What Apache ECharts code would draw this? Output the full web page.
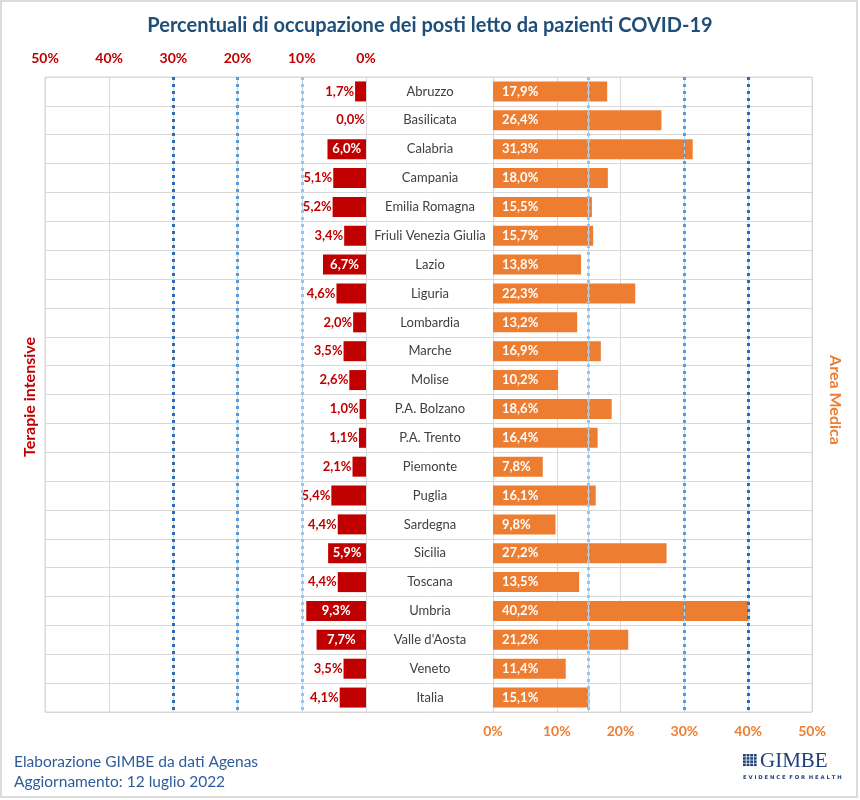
<!DOCTYPE html>
<html><head><meta charset="utf-8">
<script src="https://cdn.jsdelivr.net/npm/echarts@6/dist/echarts.min.js"></script>
<style>html,body{margin:0;padding:0;background:#fff}#c{width:860px;height:800px}</style>
</head><body><div id="c"></div><script>
const categories = ["Abruzzo","Basilicata","Calabria","Campania","Emilia Romagna","Friuli Venezia Giulia","Lazio","Liguria","Lombardia","Marche","Molise","P.A. Bolzano","P.A. Trento","Piemonte","Puglia","Sardegna","Sicilia","Toscana","Umbria","Valle d'Aosta","Veneto","Italia"];
const terapieIntensive = [1.7,0.0,6.0,5.1,5.2,3.4,6.7,4.6,2.0,3.5,2.6,1.0,1.1,2.1,5.4,4.4,5.9,4.4,9.3,7.7,3.5,4.1];
const areaMedica = [17.9,26.4,31.3,18.0,15.5,15.7,13.8,22.3,13.2,16.9,10.2,18.6,16.4,7.8,16.1,9.8,27.2,13.5,40.2,21.2,11.4,15.1];
const axisMax = 50;
const axisStep = 10;
const sogliaTI = [10, 20, 30];
const sogliaAM = [15, 30, 40];

const FONT = 'Lato';
const RED = '#C00000', ORANGE = '#ED7D31', GRID = '#D9D9D9';
const lineColors = ['#9DC3E6', '#5B9BD5', '#2E6DB4'];
const fmt = v => v.toFixed(1).replace('.', ',') + '%';

function marks(values) {
  const out = [];
  values.forEach((v, i) => {
    out.push({xAxis: v, lineStyle: {color: '#BDD7EE', width: 1, type: 'solid'}});
    out.push({xAxis: v, lineStyle: {color: lineColors[i], width: 3, type: [3, 4]}});
  });
  return out;
}

const tiData = terapieIntensive.map(v => ({
  value: v,
  label: v >= 5.5 ? {position: 'inside', color: '#fff'} : {position: 'left', color: RED, distance: 1}
}));

const chart = echarts.init(document.getElementById('c'), null, {renderer: 'canvas'});
const gridTop = 77, gridBottom = 88;
chart.setOption({
  animation: false,
  backgroundColor: '#fff',
  textStyle: {fontFamily: FONT},
  title: {
    text: 'Percentuali di occupazione dei posti letto da pazienti COVID-19',
    left: 'center', top: 11,
    textStyle: {fontFamily: FONT, fontSize: 20, fontWeight: 'bold', color: '#1F4E79'}
  },
  grid: [
    {left: 45, width: 321, top: gridTop, bottom: gridBottom},
    {left: 493, width: 319, top: gridTop, bottom: gridBottom},
    {left: 45, width: 767, top: gridTop, bottom: gridBottom, show: true, borderColor: GRID, borderWidth: 1, z: 0}
  ],
  xAxis: [
    {gridIndex: 0, type: 'value', inverse: true, min: 0, max: axisMax, interval: axisStep, position: 'top',
     axisLine: {show: false}, axisTick: {show: false},
     splitLine: {show: true, lineStyle: {color: GRID, width: 1}},
     axisLabel: {formatter: '{value}%', color: RED, fontWeight: 'bold', fontSize: 14, margin: 12, fontFamily: FONT}},
    {gridIndex: 1, type: 'value', min: 0, max: axisMax, interval: axisStep, position: 'bottom',
     axisLine: {show: false}, axisTick: {show: false},
     splitLine: {show: true, lineStyle: {color: GRID, width: 1}},
     axisLabel: {formatter: '{value}%', color: ORANGE, fontWeight: 'bold', fontSize: 14, margin: 12, fontFamily: FONT}},
    {gridIndex: 2, type: 'value', min: 0, max: 1, show: false}
  ],
  yAxis: [
    {gridIndex: 0, type: 'category', inverse: true, data: categories,
     axisLine: {show: false}, axisTick: {show: false}, axisLabel: {show: false}, splitLine: {show: false}},
    {gridIndex: 1, type: 'category', inverse: true, data: categories,
     axisLine: {show: false}, axisTick: {show: false}, splitLine: {show: false},
     axisLabel: {show: true, interval: 0, align: 'center', margin: 63, color: '#404040', fontSize: 13, fontFamily: FONT}},
    {gridIndex: 2, type: 'category', inverse: true, data: categories,
     axisLine: {show: false}, axisTick: {show: false}, axisLabel: {show: false},
     splitLine: {show: true, interval: 0, lineStyle: {color: GRID, width: 1}}}
  ],
  series: [
    {name: 'Terapie intensive', type: 'bar', xAxisIndex: 0, yAxisIndex: 0, data: tiData,
     barWidth: 20, itemStyle: {color: RED},
     label: {show: true, formatter: p => fmt(p.value), fontWeight: 'bold', fontSize: 13, fontFamily: FONT},
     markLine: {silent: true, symbol: 'none', label: {show: false}, data: marks(sogliaTI)}},
    {name: 'Area Medica', type: 'bar', xAxisIndex: 1, yAxisIndex: 1, data: areaMedica,
     barWidth: 20, itemStyle: {color: ORANGE},
     label: {show: true, position: 'insideLeft', distance: 9, color: '#fff', formatter: p => fmt(p.value), fontWeight: 'bold', fontSize: 13, fontFamily: FONT},
     markLine: {silent: true, symbol: 'none', label: {show: false}, data: marks(sogliaAM)}},
    {type: 'bar', xAxisIndex: 2, yAxisIndex: 2, data: [], silent: true}
  ],
  graphic: [
    {type: 'rect', shape: {x: 1, y: 1, width: 856, height: 796}, style: {fill: 'none', stroke: '#D0D0D0', lineWidth: 1.5}, silent: true, z: -10},
    {type: 'text', x: 30, y: 397, rotation: Math.PI / 2,
     style: {text: 'Terapie intensive', fill: RED, font: 'bold 16px ' + FONT, align: 'center', verticalAlign: 'middle'}},
    {type: 'text', x: 835, y: 400, rotation: -Math.PI / 2,
     style: {text: 'Area Medica', fill: ORANGE, font: 'bold 16px ' + FONT, align: 'center', verticalAlign: 'middle'}},
    {type: 'text', x: 14, y: 762,
     style: {text: 'Elaborazione GIMBE da dati Agenas', fill: '#2F5C99', font: '15.5px ' + FONT, verticalAlign: 'middle'}},
    {type: 'text', x: 14, y: 782,
     style: {text: 'Aggiornamento: 12 luglio 2022', fill: '#2F5C99', font: '15.5px ' + FONT, verticalAlign: 'middle'}},
    {type: 'group', x: 743, y: 754, children: (function () {
      const c = [];
      for (let r = 0; r < 4; r++) for (let k = 0; k < 4; k++) {
        c.push({type: 'rect', shape: {x: k * 3.6, y: r * 3.2, width: 2.8, height: 2.5}, style: {fill: '#1F3F77'}});
      }
      return c;
    })()},
    {type: 'text', x: 760, y: 761,
     style: {text: 'GIMBE', fill: '#1F3F77', font: '21px "Liberation Serif"', verticalAlign: 'middle'}},
    {type: 'text', x: 743, y: 778,
     style: {text: 'E V I D E N C E  F O R  H E A L T H', fill: '#1F3F77', font: 'bold 5.3px "DejaVu Sans"', verticalAlign: 'middle'}}
  ]
});
</script></body></html>
